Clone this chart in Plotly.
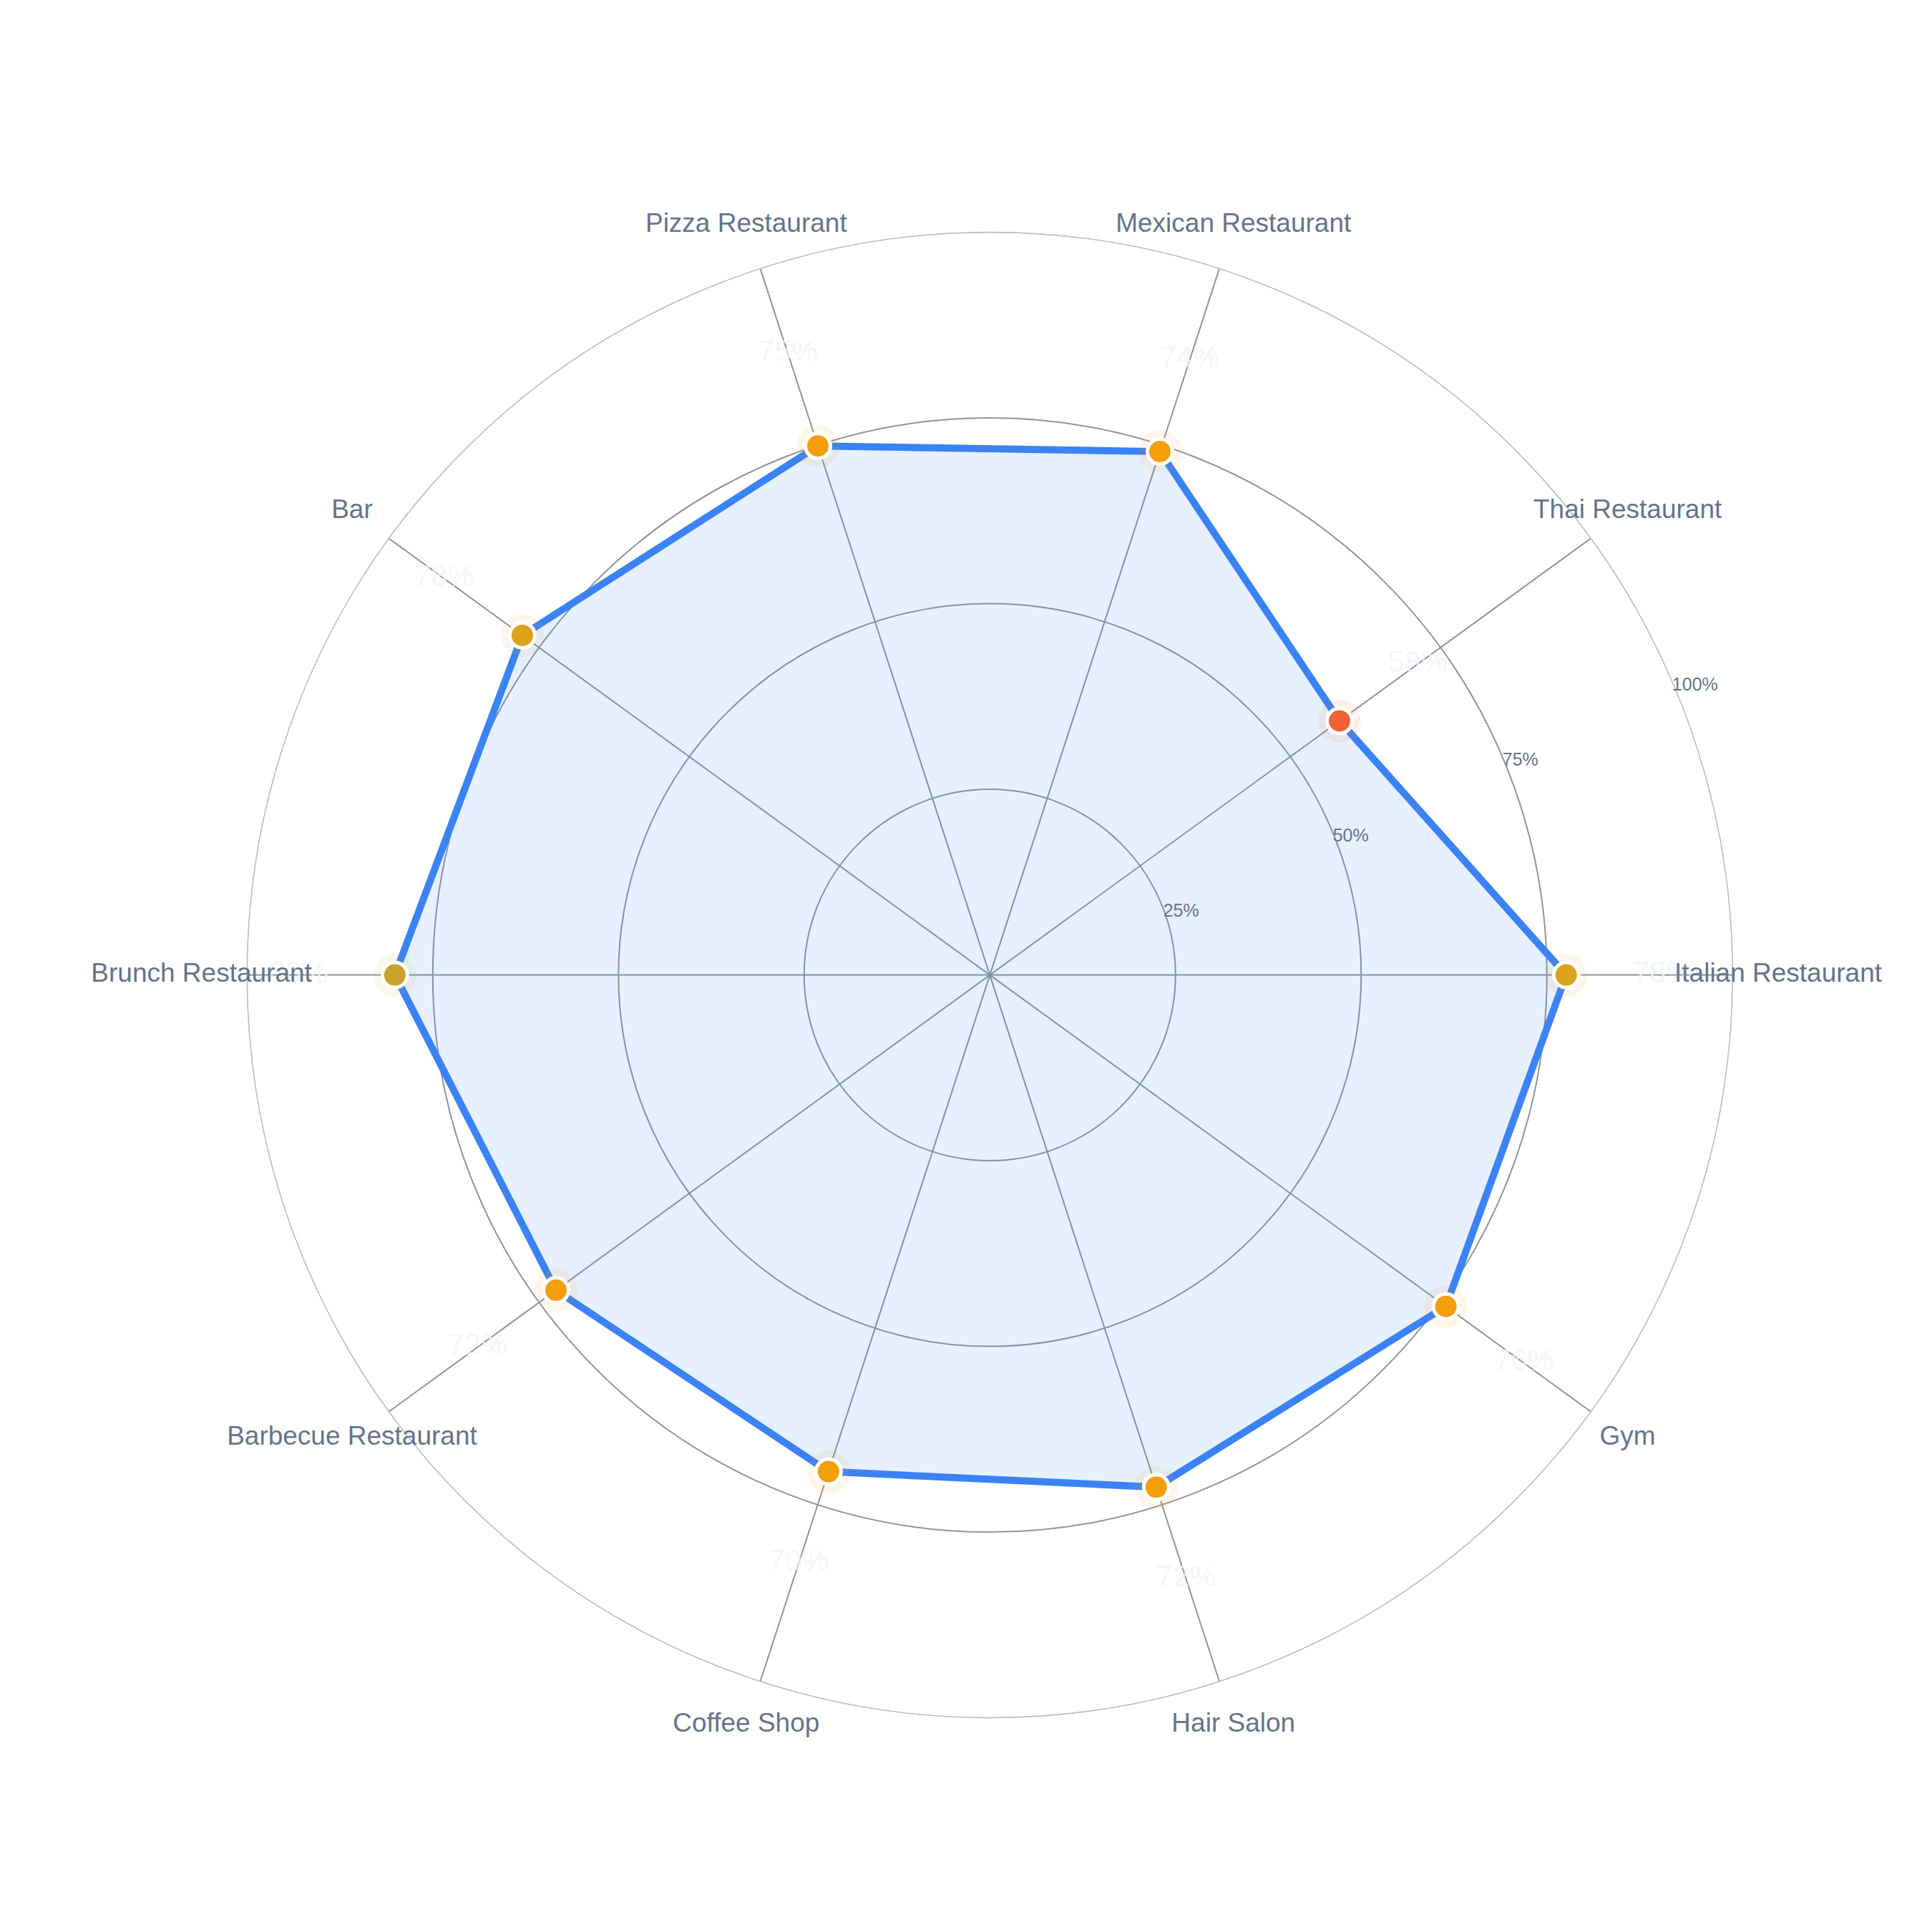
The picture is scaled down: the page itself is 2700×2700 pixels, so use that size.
import plotly.graph_objects as go

categories = ["Italian Restaurant", "Thai Restaurant", "Mexican Restaurant",
              "Pizza Restaurant", "Bar", "Brunch Restaurant",
              "Barbecue Restaurant", "Coffee Shop", "Hair Salon", "Gym"]
scores = [77.6, 58.2, 74.1, 74.9, 77.8, 80.1, 72.2, 70.3, 72.5, 75.9]
radial_ticks = [25, 50, 75, 100]
radial_labels = ["25%", "50%", "75%", "100%"]

FONT = "Liberation Sans, Arial, Helvetica, sans-serif"
SLATE = "#64748b"
W = H = 2700
CX, CY, RAD = 1375.3, 1354.6, 1038.0   # polar centre / radius in px
LABEL_SCALE = 1.0614                    # category labels sit a bit outside the ring


def point_color(v):
    if v < 65:
        return "#f26334"
    if v < 77:
        return "#f59e0b"
    if v < 79:
        return "#dba31a"
    return "#c9a227"


def domain(radius):
    return dict(x=[(CX - radius) / W, (CX + radius) / W],
                y=[1 - (CY + radius) / H, 1 - (CY - radius) / H])


colors = [point_color(v) for v in scores]
theta_closed = categories + categories[:1]
r_closed = scores + scores[:1]

fig = go.Figure()

# filled outline
fig.add_trace(go.Scatterpolar(
    r=r_closed, theta=theta_closed, mode="lines",
    line=dict(color="#3b82f6", width=10),
    fill="toself", fillcolor="rgba(59,130,246,0.12)",
    hoverinfo="skip", showlegend=False,
))

# soft halo behind points
fig.add_trace(go.Scatterpolar(
    r=scores, theta=categories, mode="markers",
    marker=dict(size=60, color=colors, opacity=0.09),
    hoverinfo="skip", showlegend=False,
))

fig.add_trace(go.Scatterpolar(
    r=scores, theta=categories, mode="markers",
    marker=dict(size=35, color=colors, line=dict(color="white", width=5)),
    showlegend=False,
))

# faint value labels
fig.add_trace(go.Scatterpolar(
    r=[v + 13 for v in scores], theta=categories, mode="text",
    text=[f"{round(v)}%" for v in scores],
    textfont=dict(family=FONT, size=42, color="rgba(241,245,249,0.8)"),
    cliponaxis=False, hoverinfo="skip", showlegend=False,
))

# category labels on an invisible, slightly larger polar
fig.add_trace(go.Scatterpolar(
    r=[100] * len(categories), theta=categories, mode="text",
    text=categories, subplot="polar2",
    textfont=dict(family=FONT, size=37, color=SLATE),
    cliponaxis=False, hoverinfo="skip", showlegend=False,
))

fig.update_layout(
    width=W, height=H,
    paper_bgcolor="white",
    margin=dict(l=0, r=0, t=0, b=0),
    font=dict(family=FONT, color=SLATE),
    polar=dict(
        domain=domain(RAD),
        bgcolor="white",
        angularaxis=dict(
            rotation=0, direction="counterclockwise",
            categoryorder="array", categoryarray=categories,
            showticklabels=False, ticks="",
            gridcolor="#8e949e", gridwidth=1.6,
            linecolor="#b9bdc4", linewidth=1.6,
        ),
        radialaxis=dict(
            range=[0, 100], tickvals=radial_ticks, ticktext=radial_labels,
            angle=24, tickangle=24, showline=False, ticks="",
            gridcolor="#8e949e", gridwidth=1.6,
            tickfont=dict(family=FONT, size=25, color=SLATE),
        ),
    ),
    polar2=dict(
        domain=domain(RAD * LABEL_SCALE),
        bgcolor="rgba(0,0,0,0)",
        angularaxis=dict(
            rotation=0, direction="counterclockwise",
            categoryorder="array", categoryarray=categories,
            showticklabels=False, ticks="", showgrid=False, showline=False,
        ),
        radialaxis=dict(range=[0, 100], visible=False, showgrid=False),
    ),
)

fig.write_html("out.html")
